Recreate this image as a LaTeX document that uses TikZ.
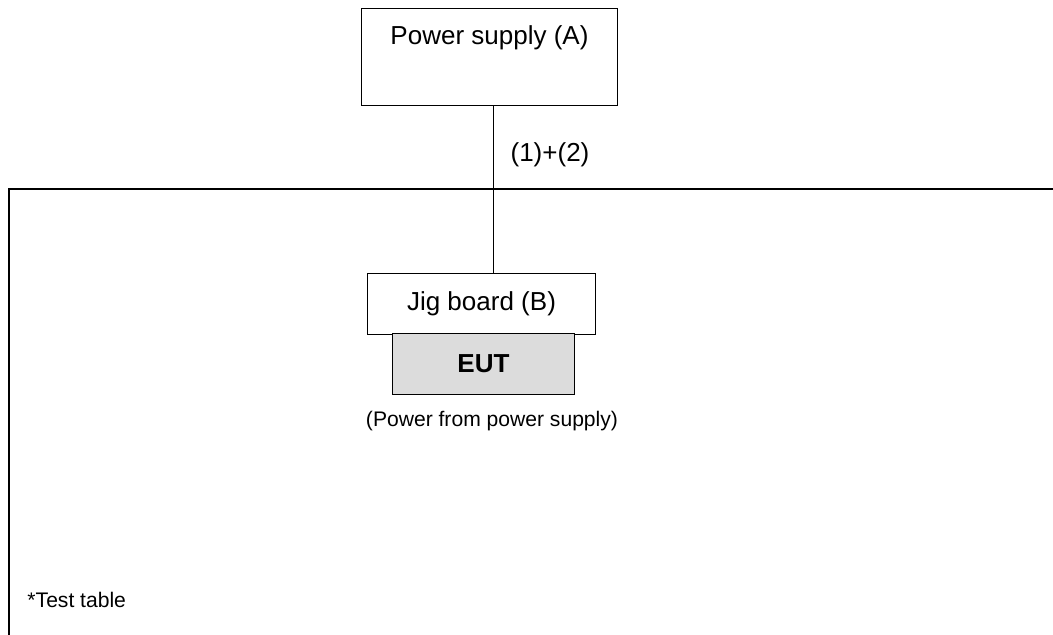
\documentclass[tikz,border=0pt]{standalone}
\usepackage{fontspec}
\setmainfont{Liberation Sans}
\usepackage{tikz}
\definecolor{eutgray}{HTML}{DCDCDC}
\tikzset{
  box/.style={draw, line width=0.7pt, fill=white, inner sep=0pt},
  bigtxt/.style={font=\fontsize{18.5}{22}\selectfont},
  smalltxt/.style={font=\fontsize{15}{18}\selectfont}
}

\begin{document}
\begin{tikzpicture}[x=0.025cm, y=-0.025cm, line width=0.7pt]
	\useasboundingbox (0,0) rectangle (1053,635);
	% test table
	\coordinate (tabletop) at (1053,189);
	\coordinate (tablefoot) at (9,635);
	\draw[line width=0.8pt] (tabletop) -| (tablefoot);
	\node[smalltxt, anchor=west, inner sep=0pt] (tablename) at (27,600) {*Test table};
	% power supply and jig
	\node[box, minimum width=6.375cm, minimum height=2.4cm,
	  label={[bigtxt, anchor=north, inner sep=0pt, yshift=-12pt]north:Power supply (A)}] (psu) at (489.5,57) {};
	\node[box, bigtxt, minimum width=5.675cm, minimum height=1.5cm] (jig) at (481.5,304) {Jig board (B)};
	\node[box, fill=eutgray, bigtxt, font=\fontsize{18.5}{22}\selectfont\bfseries, minimum width=4.525cm, minimum height=1.5cm] (eut) at (483.5,364) {EUT};
	\node[smalltxt] (powernote) at (492,421) {(Power from power supply)};
	% cable
	\coordinate (feed) at (493,0);
	\draw (psu.south -| feed) -- (jig.north -| feed);
	\node[bigtxt] (cable) at (550,155) {(1)+(2)};
\end{tikzpicture}
\end{document}
